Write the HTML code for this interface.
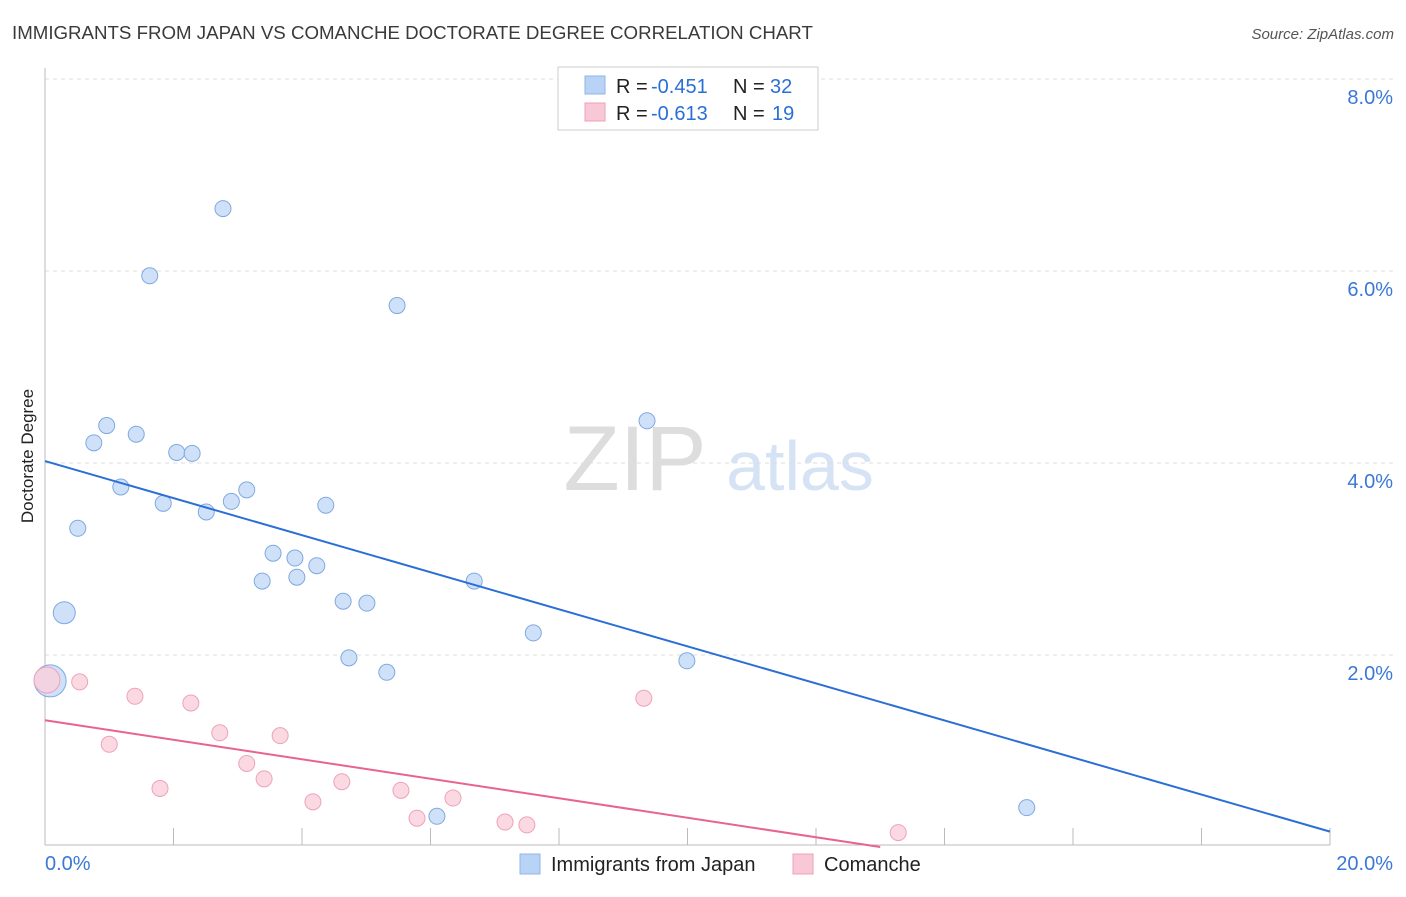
<!DOCTYPE html>
<html><head><meta charset="utf-8"><style>
body{margin:0;background:#fff;font-family:"Liberation Sans",sans-serif;}
svg text{font-family:"Liberation Sans",sans-serif;}
</style></head><body>
<svg id="chart" width="1406" height="892" xmlns="http://www.w3.org/2000/svg">
<text x="12" y="39" font-size="18.7" fill="#3a3a3a">IMMIGRANTS FROM JAPAN VS COMANCHE DOCTORATE DEGREE CORRELATION CHART</text>
<text x="1394" y="39" font-size="15" fill="#555" text-anchor="end" font-style="italic">Source: ZipAtlas.com</text>
<g>
<text x="635" y="490" font-size="92" fill="#ddd" text-anchor="middle" font-family="Liberation Serif">ZIP</text>
<text x="800" y="490" font-size="70" fill="#d5e3f5" text-anchor="middle">atlas</text>
</g>
<g id="grid"></g>
<g id="axes"></g>
<text transform="translate(33,456) rotate(-90)" font-size="17" fill="#222" text-anchor="middle">Doctorate Degree</text>
<g id="marks"></g>
<g>
<rect x="558" y="67" width="260" height="63" fill="#fff" stroke="#ccc"/>
<rect x="585" y="76" width="20" height="18" fill="#b8d3f5" stroke="#8fb5e8"/>
<text x="616" y="93" font-size="20" fill="#222">R =</text>
<text x="651" y="93" font-size="20" fill="#2a6fd6">-0.451</text>
<text x="733" y="93" font-size="20" fill="#222">N =</text>
<text x="770" y="93" font-size="20" fill="#2a6fd6">32</text>
<rect x="585" y="103" width="20" height="18" fill="#f9c8d6" stroke="#f0a0b8"/>
<text x="616" y="120" font-size="20" fill="#222">R =</text>
<text x="651" y="120" font-size="20" fill="#2a6fd6">-0.613</text>
<text x="733" y="120" font-size="20" fill="#222">N =</text>
<text x="772" y="120" font-size="20" fill="#2a6fd6">19</text>
</g>
<g>
<rect x="520" y="854" width="20" height="20" fill="#b8d3f5" stroke="#8fb5e8"/>
<text x="551" y="871" font-size="20" fill="#222">Immigrants from Japan</text>
<rect x="793" y="854" width="20" height="20" fill="#f9c8d6" stroke="#f0a0b8"/>
<text x="824" y="871" font-size="20" fill="#222">Comanche</text>
</g>
</svg>
<script>
const yTicks=[2,4,6,8];
const yTickLabels=["2.0%","4.0%","6.0%","8.0%"];
const xTickLabels=["0.0%","20.0%"];
const japanX=[2.77,1.63,5.48,0.96,1.42,0.76,2.05,2.29,9.37,1.18,3.14,1.84,2.90,2.51,4.37,0.51,3.55,3.89,4.23,3.92,3.38,6.68,0.30,4.64,5.01,7.60,4.73,5.32,9.99,0.08,6.10,15.28];
const japanY=[6.65,5.95,5.64,4.39,4.30,4.21,4.11,4.10,4.44,3.75,3.72,3.58,3.60,3.49,3.56,3.32,3.06,3.01,2.93,2.81,2.77,2.77,2.44,2.56,2.54,2.23,1.97,1.82,1.94,1.73,0.32,0.41];
const comX=[0.03,0.54,1.40,2.27,1.00,2.72,3.66,9.32,3.14,3.41,1.79,4.62,4.17,5.54,6.35,5.79,7.16,7.50,13.28];
const comY=[1.74,1.72,1.57,1.50,1.07,1.19,1.16,1.55,0.87,0.71,0.61,0.68,0.47,0.59,0.51,0.30,0.26,0.23,0.15];
const japanTrend=[4.02,0.16];
const comTrend=[1.32,0.0];
const comTrendEnd=13.0;
const X=v=>45+v*64.25, Y=v=>847-v*96;
const NS="http://www.w3.org/2000/svg";
function mk(p,t,a){const e=document.createElementNS(NS,t);for(const k in a)e.setAttribute(k,a[k]);document.getElementById(p).appendChild(e);return e;}
yTicks.forEach((v,i)=>{
 const l=mk('grid','line',{x1:45,x2:1394,y1:Y(v),y2:Y(v),stroke:'#ddd','stroke-dasharray':'4,4'});
 
 const t=mk('grid','text',{x:1393,y:Y(v)+25,'font-size':20,fill:'#3b78d6','text-anchor':'end'});
 t.textContent=yTickLabels[i];
 
});
{const a=mk('axes','line',{x1:45,x2:45,y1:68,y2:845,stroke:'#bbb'});
 const b=mk('axes','line',{x1:45,x2:1330,y1:845,y2:845,stroke:'#bbb'});}
for(let i=0;i<=10;i++){const t=mk('axes','line',{x1:X(i*2),x2:X(i*2),y1:828,y2:845,stroke:'#bbb'});}
[[0,'start',45],[20,'end',1393]].forEach((d,i)=>{const t=mk('axes','text',{x:d[2],y:870,'font-size':20,fill:'#3b78d6','text-anchor':d[1]});t.textContent=xTickLabels[i];});
japanX.forEach((x,i)=>{const r=i==29?16:(i==22?11:8);const c=mk('marks','circle',{cx:X(x),cy:Y(japanY[i]),r:r,fill:'#c3d9f6','fill-opacity':0.8,stroke:'#7fa9e0'});});
comX.forEach((x,i)=>{const r=i==0?13:8;const c=mk('marks','circle',{cx:X(x),cy:Y(comY[i]),r:r,fill:'#f9cfdc','fill-opacity':0.8,stroke:'#eea2ba'});});
{const l=mk('marks','line',{x1:X(0),y1:Y(japanTrend[0]),x2:X(20),y2:Y(japanTrend[1]),stroke:'#2a6fd6','stroke-width':2});
 const m=mk('marks','line',{x1:X(0),y1:Y(comTrend[0]),x2:X(comTrendEnd),y2:Y(comTrend[1]),stroke:'#e8648e','stroke-width':2});}
</script>
</body></html>
